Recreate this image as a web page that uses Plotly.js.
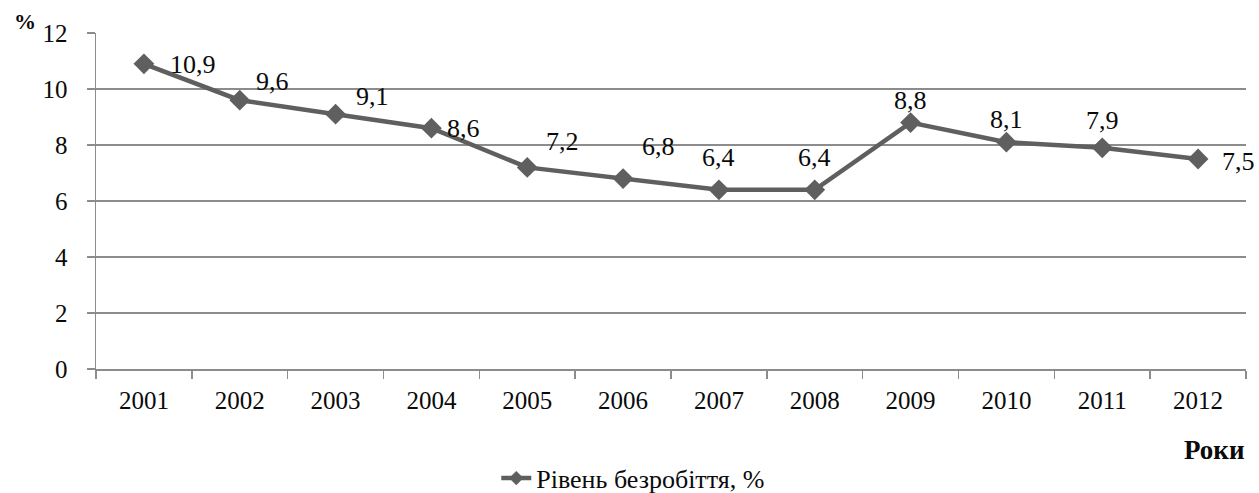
<!DOCTYPE html>
<html>
<head>
<meta charset="utf-8">
<script src="https://cdn.plot.ly/plotly-3.0.1.min.js"></script>
<style>html,body{margin:0;padding:0;background:#fff;}#chart{width:1259px;height:493px;}</style>
</head>
<body>
<div id="chart"></div>
<script>
const years = ['2001','2002','2003','2004','2005','2006','2007','2008','2009','2010','2011','2012'];
const rates = [10.9, 9.6, 9.1, 8.6, 7.2, 6.8, 6.4, 6.4, 8.8, 8.1, 7.9, 7.5];
const labels = ['10,9','9,6','9,1','8,6','7,2','6,8','6,4','6,4','8,8','8,1','7,9','7,5'];
const seriesName = 'Рівень безробіття, %';
const yTicks = [0, 2, 4, 6, 8, 10, 12];

// label offsets (px) relative to the point
const labelDx = [49, 33, 37, 32, 35, 35, 0, 0, 0, 0, 0, 40];
const labelDy = [-1, 19, 18, 0, 26, 32, 32, 32, 22, 23, 27, -2];

const font = "'Liberation Serif', 'Times New Roman', serif";
const lineColor = '#5f5f5f';
const textColor = '#0a0a0a';
const fs = 24;

const trace = {
  x: years, y: rates, type: 'scatter', mode: 'lines+markers', name: seriesName,
  line: {color: lineColor, width: 4.5},
  marker: {symbol: 'diamond', size: 16, color: lineColor},
  showlegend: false,
  hoverinfo: 'skip'
};
const legendTrace = {
  x: [null], y: [null], type: 'scatter', mode: 'lines+markers', name: seriesName,
  line: {color: lineColor, width: 4.5},
  marker: {symbol: 'diamond', size: 11, color: lineColor},
  showlegend: true, hoverinfo: 'skip'
};

const annotations = years.map((yr, i) => ({
  x: i, y: rates[i], xref: 'x', yref: 'y', text: labels[i], showarrow: false,
  xshift: labelDx[i], yshift: labelDy[i],
  font: {family: font, size: 26, color: textColor}
}));
annotations.push({xref: 'paper', yref: 'paper', x: -0.073, y: 1.0, xanchor: 'left', yanchor: 'bottom',
  text: '<b>%</b>', showarrow: false, font: {family: font, size: 22, color: textColor}, yshift: -3});
annotations.push({xref: 'paper', yref: 'paper', x: 1.0, y: -0.241, xanchor: 'right', yanchor: 'middle',
  text: '<b>Роки</b>', showarrow: false, font: {family: font, size: 27, color: textColor}});

const layout = {
  width: 1259, height: 493,
  margin: {l: 96, r: 13, t: 33, b: 124},
  paper_bgcolor: '#fff', plot_bgcolor: '#fff',
  font: {family: font, size: fs, color: textColor},
  showlegend: true,
  legend: {orientation: 'h', x: 0.503, y: 0.03, xref: 'container', yref: 'container',
    xanchor: 'center', yanchor: 'middle',
    font: {family: font, size: 26, color: textColor}, itemwidth: 30},
  xaxis: {
    type: 'category', range: [-0.5, 11.5], showgrid: false, zeroline: false,
    showline: true, linecolor: '#8c8c8c', linewidth: 1.5,
    ticks: 'outside', tickson: 'boundaries', ticklen: 8, tickcolor: '#8c8c8c', tickwidth: 1.5,
    ticklabelstandoff: 8,
    tickfont: {family: font, size: 25, color: textColor}, fixedrange: true
  },
  yaxis: {
    range: [0, 12], tickvals: yTicks, ticktext: yTicks.map(String),
    showgrid: true, gridcolor: '#8c8c8c', gridwidth: 1.2, zeroline: false,
    showline: true, linecolor: '#8c8c8c', linewidth: 1.5,
    ticks: 'outside', ticklen: 8, tickcolor: '#8c8c8c', tickwidth: 1.5,
    ticklabelstandoff: 14,
    tickfont: {family: font, size: 25, color: textColor}, fixedrange: true
  },
  annotations: annotations
};

Plotly.newPlot('chart', [trace, legendTrace], layout, {displayModeBar: false, staticPlot: true});
</script>
</body>
</html>
